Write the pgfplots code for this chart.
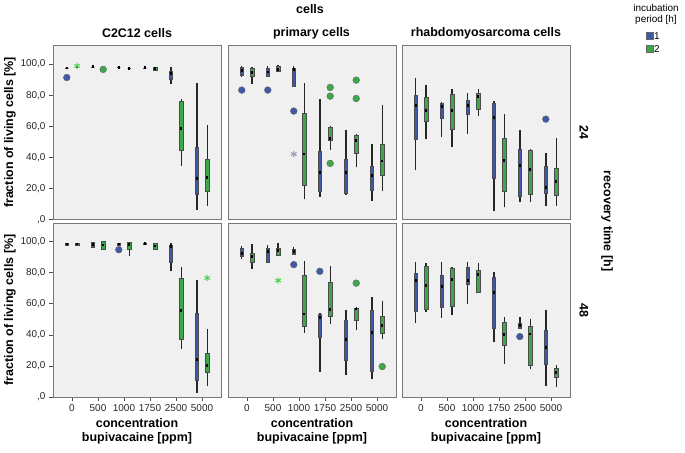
\documentclass[border=0pt]{standalone}
\usepackage{pgfplots}
\pgfplotsset{compat=1.18}
\usepackage{pgfplotstable}
\usepgfplotslibrary{statistics}
\usepackage{fontspec}
\setmainfont{Liberation Sans}

\definecolor{blueC}{RGB}{62,88,170}
\definecolor{greenC}{RGB}{60,168,72}
\definecolor{panelbg}{RGB}{240,240,240}
\definecolor{frameC}{RGB}{120,120,120}

\newcommand\fb{\fontsize{12.5}{14.5}\selectfont\bfseries}
\newcommand\ft{\fontsize{10}{11}\selectfont}

% columns: lower whisker, lower quartile, median, upper quartile, upper whisker
% rows: 0, 500, 1000, 1750, 2500, 5000 ppm
% ---- 24 h recovery
\pgfplotstableread{
lw lq med uq uw
97.5 97.5 97.5 97.5 97.5
98.3 98.3 98.3 98.3 98.3
97.9 97.9 97.9 97.9 97.9
97.6 97.6 97.6 97.6 97.6
87.1 90.2 94.0 95.7 97.9
6.1 16.4 26.2 46.4 88.0
}\TLb
\pgfplotstableread{
lw lq med uq uw
98.6 98.6 98.6 98.6 98.6
96.6 96.6 96.6 96.6 96.6
97.4 97.4 97.4 97.4 97.4
95.7 96.2 97.0 97.8 98.3
34.4 44.7 58.6 76.4 77.3
8.9 18.5 27.1 38.7 60.8
}\TLg
\pgfplotstableread{
lw lq med uq uw
92.0 92.9 95.7 97.9 99.0
91.7 92.3 95.0 97.2 98.7
86.0 86.0 96.6 97.2 98.7
14.7 17.9 30.1 44.2 77.3
15.8 17.2 30.3 38.9 57.6
11.9 19.0 28.4 34.4 48.6
}\TMb
\pgfplotstableread{
lw lq med uq uw
86.9 92.5 94.4 97.2 97.9
95.0 95.7 96.5 98.6 99.2
13.0 22.2 42.1 68.7 88.0
44.7 51.1 52.2 59.3 60.5
33.6 42.5 51.1 54.3 54.8
18.5 28.6 37.6 48.6 73.6
}\TMg
\pgfplotstableread{
lw lq med uq uw
31.8 51.8 73.2 80.1 90.8
53.2 65.1 72.5 74.7 75.8
54.8 67.8 73.6 76.8 81.2
5.7 26.5 65.5 74.7 76.2
11.0 15.3 34.6 45.3 57.6
8.9 16.8 20.5 34.0 42.6
}\TRb
\pgfplotstableread{
lw lq med uq uw
51.8 63.3 70.4 78.6 86.5
46.4 58.0 70.4 80.7 83.9
66.6 70.9 79.0 81.2 83.9
7.8 18.5 37.8 52.6 67.8
11.4 16.2 32.3 44.7 45.3
8.9 15.8 24.3 33.3 52.6
}\TRg
% ---- 48 h recovery
\pgfplotstableread{
lw lq med uq uw
97.5 98.0 98.5 99.0 99.2
96.6 96.6 98.0 99.5 99.5
97.5 98.0 98.5 99.0 99.2
98.0 98.3 98.7 99.0 99.2
80.9 86.7 97.0 98.0 99.2
2.8 11.0 24.3 54.0 75.0
}\BLb
\pgfplotstableread{
lw lq med uq uw
97.5 97.8 98.5 99.0 99.2
95.3 95.3 97.8 100.0 100.0
91.0 95.3 98.0 99.4 99.4
95.0 95.0 97.2 99.2 99.2
30.8 37.2 55.7 76.3 83.7
7.1 15.9 20.2 28.2 43.7
}\BLg
\pgfplotstableread{
lw lq med uq uw
89.0 90.5 92.3 96.0 97.5
86.0 86.9 93.8 95.9 97.6
91.8 91.8 93.5 95.3 96.8
16.3 38.5 51.4 53.4 54.0
14.2 23.9 37.2 49.2 55.7
11.4 16.8 41.5 56.1 64.3
}\BMb
\pgfplotstableread{
lw lq med uq uw
82.6 86.9 90.5 92.3 98.7
90.5 91.2 94.4 95.9 99.2
41.1 45.4 53.4 78.7 87.3
47.1 51.8 56.1 73.8 84.5
43.2 49.2 56.6 57.2 57.9
37.4 41.1 45.8 52.3 61.9
}\BMg
\pgfplotstableread{
lw lq med uq uw
47.5 55.5 74.8 79.8 86.6
50.8 57.6 71.2 78.7 86.6
60.0 72.7 74.8 83.7 86.6
35.7 44.3 67.3 77.2 80.4
44.3 44.3 45.8 47.5 51.8
7.3 21.3 32.1 42.8 56.1
}\BRb
\pgfplotstableread{
lw lq med uq uw
54.6 56.6 71.6 84.5 86.3
52.9 58.7 75.5 82.8 83.7
67.3 67.3 79.1 81.9 86.3
21.3 33.1 40.0 47.9 51.2
18.1 20.2 40.6 45.4 50.1
6.3 12.7 15.7 18.5 20.6
}\BRg

\pgfplotsset{
  bxb/.style={draw=black!70, fill=blueC, line width=0.4pt},
  bxg/.style={draw=black!70, fill=greenC, line width=0.4pt},
  outb/.style={only marks, mark=*, mark size=3.4pt,
    mark options={fill=blueC, draw=black!60, line width=0.4pt}},
  outg/.style={only marks, mark=*, mark size=3.4pt,
    mark options={fill=greenC, draw=black!60, line width=0.4pt}},
  starb/.style={only marks, mark=asterisk, mark size=3.2pt,
    mark options={draw=blueC!45!gray!70, line width=1pt}},
  starg/.style={only marks, mark=asterisk, mark size=3.2pt,
    mark options={draw=green!75!black!70, line width=1pt}},
  panel/.style={
    scale only axis, width=168bp, height=174bp, anchor=north west,
    xmin=-0.73, xmax=5.73, ymin=0, ymax=112,
    axis background/.style={fill=panelbg},
    axis line style={draw=frameC, line width=0.8pt},
    tick align=outside, major tick length=4bp,
    tick style={black!70, line width=0.6pt},
    xtick=\empty, ytick=\empty,
    boxplot/draw direction=y,
    boxplot/box extend=0.12,
    boxplot/whisker extend=0,
    boxplot/every whisker/.style={black!85, line width=1.4pt},
    boxplot/every median/.style={draw=black, line width=2.8pt,
      shorten <=0.5pt, shorten >=0.5pt},
  },
  leftp/.style={ytick={0,20,...,100}, ytick pos=left,
    yticklabels={{,0},{20,0},{40,0},{60,0},{80,0},{100,0}},
    yticklabel style={font=\ft, text=black!85},
    ylabel={fraction of living cells [\%]},
    ylabel style={font=\fb, yshift=-2bp}},
  bottomp/.style={xtick={0,...,5}, xtick pos=left,
    xticklabels={0,500,1000,1750,2500,5000},
    xticklabel style={font=\ft, text=black!85},
    xlabel={concentration\\bupivacaine [ppm]},
    xlabel style={font=\fb, align=center}},
}

% one box: table, row, draw position, style
\newcommand\onebox[4]{%
  \pgfplotstablegetelem{#2}{lw}\of{#1}\let\vlw\pgfplotsretval
  \pgfplotstablegetelem{#2}{lq}\of{#1}\let\vlq\pgfplotsretval
  \pgfplotstablegetelem{#2}{med}\of{#1}\let\vmed\pgfplotsretval
  \pgfplotstablegetelem{#2}{uq}\of{#1}\let\vuq\pgfplotsretval
  \pgfplotstablegetelem{#2}{uw}\of{#1}\let\vuw\pgfplotsretval
  \edef\tmp{\noexpand\addplot[#4, boxplot prepared={draw position=#3,
    lower whisker=\vlw, lower quartile=\vlq, median=\vmed,
    upper quartile=\vuq, upper whisker=\vuw}] coordinates {};}%
  \tmp}

\newcommand\panelboxes[2]{%
  \pgfplotsinvokeforeach{0,...,5}{%
    \onebox{#1}{##1}{##1-0.2}{bxb}
    \onebox{#2}{##1}{##1+0.2}{bxg}
  }%
}

\begin{document}
\begin{tikzpicture}
\useasboundingbox (0,0) rectangle (685bp,-453bp);

% ---------- row 24 h
\begin{axis}[panel, leftp, at={(53bp,-45.5bp)}]
\panelboxes{\TLb}{\TLg}
\addplot[outb] coordinates {(-0.2,91.4)};
\addplot[outg] coordinates {(1.2,96.6)};
\addplot[starg] coordinates {(0.2,98.9)};
\end{axis}

\begin{axis}[panel, at={(228bp,-45.5bp)}]
\panelboxes{\TMb}{\TMg}
\addplot[outb] coordinates {(-0.2,83.3) (0.8,83.3) (1.8,69.8)};
\addplot[starb] coordinates {(1.8,42.1)};
\addplot[outg] coordinates {(3.2,85.0) (3.2,79.4) (3.2,36.1) (4.2,89.7) (4.2,77.9)};
\end{axis}

\begin{axis}[panel, at={(402bp,-45.5bp)}]
\panelboxes{\TRb}{\TRg}
\addplot[outb] coordinates {(4.8,64.6)};
\end{axis}

% ---------- row 48 h
\begin{axis}[panel, leftp, bottomp, at={(53bp,-223bp)}]
\panelboxes{\BLb}{\BLg}
\addplot[outb] coordinates {(1.8,94.8)};
\addplot[starg] coordinates {(5.2,76.6)};
\end{axis}

\begin{axis}[panel, bottomp, at={(228bp,-223bp)}]
\panelboxes{\BMb}{\BMg}
\addplot[outb] coordinates {(1.8,85.2) (2.8,80.9)};
\addplot[outg] coordinates {(4.2,73.3) (5.2,19.6)};
\addplot[starg] coordinates {(1.2,75.0)};
\end{axis}

\begin{axis}[panel, bottomp, at={(402bp,-223bp)}]
\panelboxes{\BRb}{\BRg}
\addplot[outb] coordinates {(3.8,38.9)};
\end{axis}

% ---------- titles and panel labels
\node[font=\fb] at (310bp,-9bp) {cells};
\node[font=\fb] at (137bp,-33bp) {C2C12 cells};
\node[font=\fb] at (311.5bp,-33bp) {primary cells};
\node[font=\fb] at (486bp,-33bp) {rhabdomyosarcoma cells};
\node[font=\fb, rotate=-90] at (584bp,-132bp) {24};
\node[font=\fb, rotate=-90] at (584bp,-310bp) {48};
\node[font=\fb, rotate=-90] at (607bp,-221bp) {recovery time [h]};

% ---------- legend
\node[font=\ft, align=center, inner sep=0pt] at (656bp,-14bp)
  {incubation\\period [h]};
\draw[draw=black!60, fill=blueC] (646bp,-32bp) rectangle (653bp,-39bp);
\draw[draw=black!60, fill=greenC] (646bp,-45bp) rectangle (653bp,-52bp);
\node[font=\ft, anchor=west, inner sep=0pt] at (654bp,-36bp) {1};
\node[font=\ft, anchor=west, inner sep=0pt] at (654bp,-49bp) {2};
\end{tikzpicture}
\end{document}
